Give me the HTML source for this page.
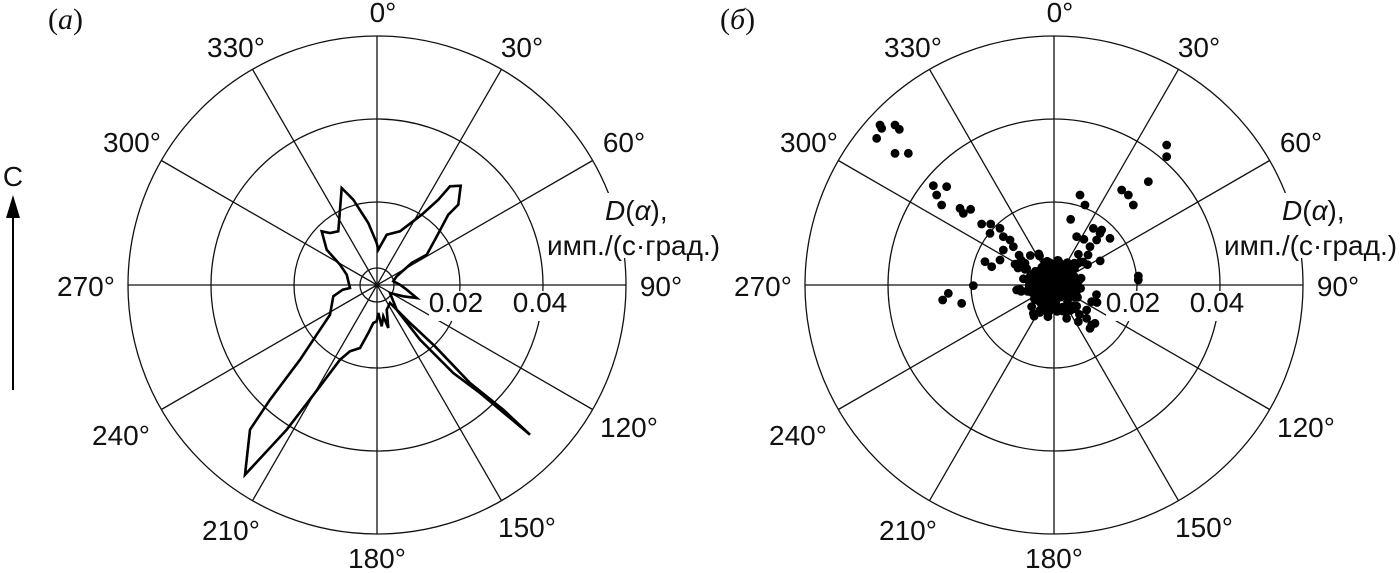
<!DOCTYPE html>
<html><head><meta charset="utf-8"><style>
html,body{margin:0;padding:0;background:#fff;}
svg{display:block;}
text{font-family:"Liberation Sans",sans-serif;font-size:28px;fill:#111;}
.s{font-family:"Liberation Serif",serif;font-size:30px;}
</style></head><body>
<svg id="s" width="1400" height="573" viewBox="0 0 1400 573" xmlns="http://www.w3.org/2000/svg">
<g id="g"></g>
<text class="s" x="48" y="29">(<tspan font-style="italic">а</tspan>)</text>
<text class="s" x="720" y="29">(<tspan font-style="italic">б</tspan>)</text>
<text x="13" y="186" text-anchor="middle">С</text>
<line x1="13" y1="390" x2="13" y2="210" stroke="#000" stroke-width="2"/>
<polygon points="13,195 6,218 20,218" fill="#000"/>
</svg>
<script>
var NS="http://www.w3.org/2000/svg",g=document.getElementById("g");
function el(t,a,txt){var e=document.createElementNS(NS,t);for(var k in a)e.setAttribute(k,a[k]);if(txt)e.textContent=txt;g.appendChild(e);return e;}
function panel(cx,cy){
 var R=249;
 [17,83,166,249].forEach(function(r){el("circle",{cx:cx,cy:cy,r:r,fill:"none",stroke:"#111","stroke-width":1.3});});
 for(var a=0;a<360;a+=30){var t=a*Math.PI/180;el("line",{x1:cx,y1:cy,x2:cx+R*Math.sin(t),y2:cy-R*Math.cos(t),stroke:"#111","stroke-width":1.3});}
 el("rect",{x:cx+52,y:cy+6,width:56,height:30,fill:"#fff"});
 el("rect",{x:cx+135,y:cy+6,width:58,height:30,fill:"#fff"});
 el("rect",{x:cx+200,y:cy-92,width:60,height:65,fill:"#fff"});
 var L=[[0,6,-263],[30,145,-228],[330,-141,-228],[60,247,-133],[300,-245,-133],[90,284,11],[270,-291,11],[120,252,152],[240,-256,160],[150,150,252],[210,-146,255],[180,0,283]];
 L.forEach(function(l){el("text",{x:cx+l[1],y:cy+l[2],"text-anchor":"middle"},l[0]+"°");});
 el("text",{x:cx+79,y:cy+27,"text-anchor":"middle"},"0.02");
 el("text",{x:cx+163,y:cy+27,"text-anchor":"middle"},"0.04");
 var d=el("text",{x:cx+228,y:cy-65},"");d.innerHTML='<tspan font-style="italic">D</tspan>(<tspan font-style="italic">α</tspan>),';
 el("text",{x:cx+170,y:cy-30},"имп./(с·град.)");
}
panel(377,285);panel(1054,285);
var P=[775,680,800,635,840,625,905,575,955,530,990,490,1022,488,1015,545,985,575,945,650,920,695,875,720,830,760,820,775,840,785,860,800,890,825,850,820,810,810,830,860,900,950,1000,1050,1080,1110,1230,1235,1150,1160,1050,1080,945,970,870,900,810,840,800,860,805,915,790,880,785,910,775,870,770,895,760,900,745,930,720,975,690,985,660,1010,600,1090,500,1220,375,1355,390,1220,450,1130,540,1010,600,920,630,875,640,820,668,800,690,795,680,755,660,725,620,680,605,625,630,630,655,625,665,495,700,530,745,600,770,660];
var pts=[];for(var i=0;i<P.length;i+=2)pts.push((P[i]/3+120).toFixed(1)+","+(P[i+1]/3+20+3).toFixed(1));
el("polygon",{points:pts.join(" "),fill:"none",stroke:"#000","stroke-width":2.6,"stroke-linejoin":"miter"});
var D=[240,315,245,325,230,355,285,315,298,328,285,400,325,400,1100,375,1100,410,1045,485,965,510,985,525,1000,555,840,525,855,555,812,598,400,497,440,500,410,525,425,555,480,565,512,568,490,580,545,612,572,612,570,640,600,625,610,650,630,660,640,680,575,740,555,725,600,720,610,690,520,797,445,820,428,840,485,850,650,810,660,808,700,880,695,860,800,895,835,905,860,895,875,915,885,910,870,925,860,870,875,845,1015,768,1015,780,830,650,880,625,900,640,890,660,930,655,905,630,870,680];
for(i=0;i<D.length;i+=2)el("circle",{cx:D[i]/3+800,cy:D[i+1]/3+20,r:4.4,fill:"#000"});
var seed=7;function rnd(){seed=(seed*9301+49297)%233280;return seed/233280;}
for(i=0;i<320;i++){var ang=rnd()*6.283,rr=Math.pow(rnd(),1.5)*26;var bx=1054+rr*Math.cos(ang)*1.1,by=285+rr*Math.sin(ang);
 if(rnd()<0.3){var k=rnd()*32;var dir=[[-1,-0.75],[1,-0.9],[0.8,0.9],[-0.5,1]][Math.floor(rnd()*4)];bx+=dir[0]*k;by+=dir[1]*k;}
 el("circle",{cx:bx.toFixed(1),cy:by.toFixed(1),r:4.4,fill:"#000"});}
</script>
</body></html>
